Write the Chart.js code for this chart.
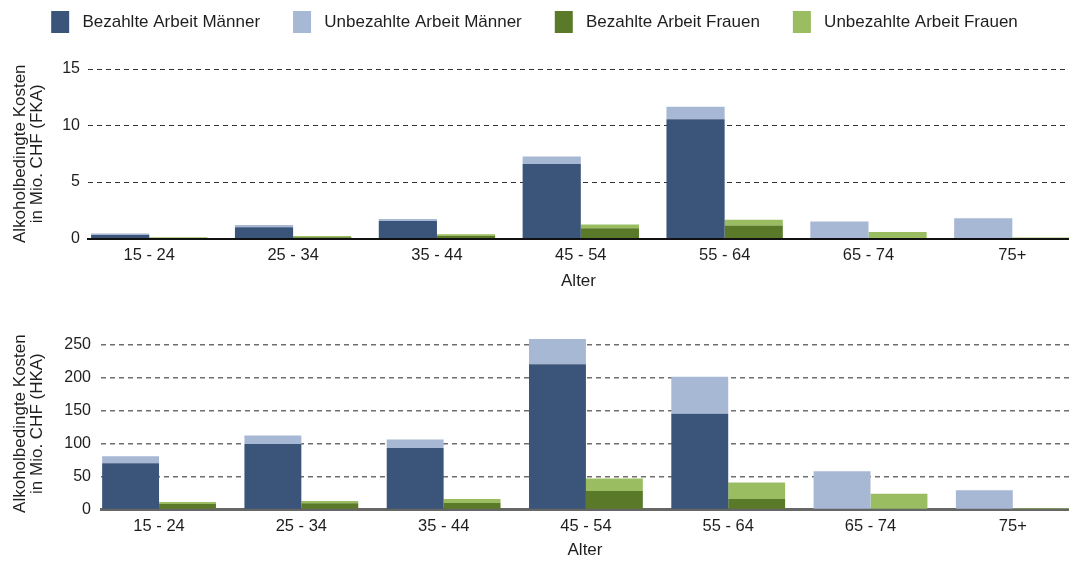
<!DOCTYPE html>
<html>
<head>
<meta charset="utf-8">
<script src="https://cdn.jsdelivr.net/npm/chart.js@4.4.1/dist/chart.umd.min.js"></script>
<style>
  html, body { margin: 0; padding: 0; background: #fff; }
  #wrap { position: relative; width: 1069px; height: 562px; }
  canvas { position: absolute; left: 0; }
  #fka { top: 0; }
  #hka { top: 300px; }
</style>
</head>
<body>
<div id="wrap">
  <canvas id="fka" width="1069" height="300"></canvas>
  <canvas id="hka" width="1069" height="262"></canvas>
</div>
<script>
const ageGroups = ['15 - 24', '25 - 34', '35 - 44', '45 - 54', '55 - 64', '65 - 74', '75+'];
const seriesNames = ['Bezahlte Arbeit Männer', 'Unbezahlte Arbeit Männer', 'Bezahlte Arbeit Frauen', 'Unbezahlte Arbeit Frauen'];
const colors = ['#3b5479', '#a7b8d4', '#5b7a29', '#9bbd62'];
const stacks = ['m', 'm', 'f', 'f'];

// Mio. CHF, Friktionskostenansatz
const fkaPaidMen     = [0.3, 1.0, 1.55, 6.6, 10.55, 0, 0];
const fkaUnpaidMen   = [0.15, 0.2, 0.18, 0.65, 1.1, 1.5, 1.8];
const fkaPaidWomen   = [0.05, 0.12, 0.22, 0.9, 1.15, 0, 0];
const fkaUnpaidWomen = [0.05, 0.1, 0.15, 0.35, 0.5, 0.58, 0.08];
const fkaTicks = [0, 5, 10, 15];

// Mio. CHF, Humankapitalansatz
const hkaPaidMen     = [70, 99, 93, 220, 145, 0, 0];
const hkaUnpaidMen   = [10.5, 13, 13, 38, 56, 58, 29];
const hkaPaidWomen   = [8.5, 9.5, 10, 28, 16, 0, 1];
const hkaUnpaidWomen = [3, 3.5, 6, 19, 25, 24, 1];
const hkaTicks = [0, 50, 100, 150, 200, 250];

const textColor = '#1e1e1e';
Chart.defaults.font.family = '"Liberation Sans", Arial, sans-serif';

// legend takes the room above the first plot
const legendHeight = {
  id: 'legendHeight',
  afterInit(chart) {
    const fit = chart.legend.fit;
    chart.legend.fit = function () {
      fit.call(this);
      this.height = 91;
    };
  }
};

function makeChart(id, series, o) {
  return new Chart(document.getElementById(id), {
    type: 'bar',
    data: {
      datasets: series.map((vals, k) => ({
        label: seriesNames[k],
        data: vals.map((v, i) => ({ x: i, y: v })),
        backgroundColor: colors[k],
        stack: stacks[k],
        borderWidth: 0,
        categoryPercentage: o.catPct,
        barPercentage: 1
      }))
    },
    options: {
      responsive: false,
      animation: false,
      layout: { padding: { top: o.padTop, left: 0, right: 0, bottom: 0 } },
      plugins: {
        legend: {
          display: o.legend,
          position: 'top',
          labels: {
            boxWidth: 18, boxHeight: 22, padding: 33, color: textColor, font: { size: 17 },
            generateLabels: chart => Chart.defaults.plugins.legend.labels.generateLabels(chart)
              .map(l => ({ ...l, text: ' ' + l.text }))
          }
        },
        tooltip: { enabled: false }
      },
      scales: {
        x: {
          type: 'linear',
          bounds: 'data',
          offset: false,
          stacked: true,
          min: o.xMin,
          max: o.xMax,
          afterBuildTicks: s => { s.ticks = ageGroups.map((_, i) => ({ value: i })); },
          grid: { display: false, drawTicks: false, offset: false },
          border: { display: true, color: o.axisColor, width: o.axisWidth },
          ticks: {
            maxRotation: 0, autoSkip: false,
            padding: 7, color: textColor, font: { size: 16.5 },
            callback: v => ageGroups[v] ?? ''
          },
          title: { display: true, text: 'Alter', color: textColor, font: { size: 17 }, padding: { top: 0, bottom: o.xTitlePad } },
          afterFit: s => { s.height = o.xHeight; }
        },
        y: {
          stacked: true,
          min: 0,
          max: o.yMax,
          afterBuildTicks: s => { s.ticks = o.ticks.map(v => ({ value: v })); },
          grid: { color: o.gridColor, lineWidth: o.gridWidth, drawTicks: false },
          border: { display: false, dash: [5, 4] },
          ticks: { padding: o.tickPad, color: textColor, font: { size: 16 } },
          title: {
            display: true, text: ['Alkoholbedingte Kosten', o.unit], color: textColor,
            font: { size: 17, lineHeight: 1 }, padding: { top: 11.5, bottom: 0 }
          },
          afterFit: s => { s.width = o.left; }
        }
      }
    },
    plugins: o.legend ? [legendHeight] : []
  });
}

makeChart('fka', [fkaPaidMen, fkaUnpaidMen, fkaPaidWomen, fkaUnpaidWomen], {
  legend: true, padTop: -22, left: 88, xMin: -0.426, xMax: 6.394, catPct: 0.809,
  yMax: 15, ticks: fkaTicks, unit: 'in Mio. CHF (FKA)', tickPad: 8,
  gridColor: '#333333', gridWidth: 1, axisColor: '#111111', axisWidth: 2,
  xHeight: 61.5, xTitlePad: 8
});

makeChart('hka', [hkaPaidMen, hkaUnpaidMen, hkaPaidWomen, hkaUnpaidWomen], {
  legend: false, padTop: 37.7, left: 101, xMin: -0.408, xMax: 6.395, catPct: 0.80,
  yMax: 260, ticks: hkaTicks, unit: 'in Mio. CHF (HKA)', tickPad: 10,
  gridColor: '#6e6e6e', gridWidth: 1.5, axisColor: '#666666', axisWidth: 3,
  xHeight: 52.5, xTitlePad: 1
});
</script>
</body>
</html>
